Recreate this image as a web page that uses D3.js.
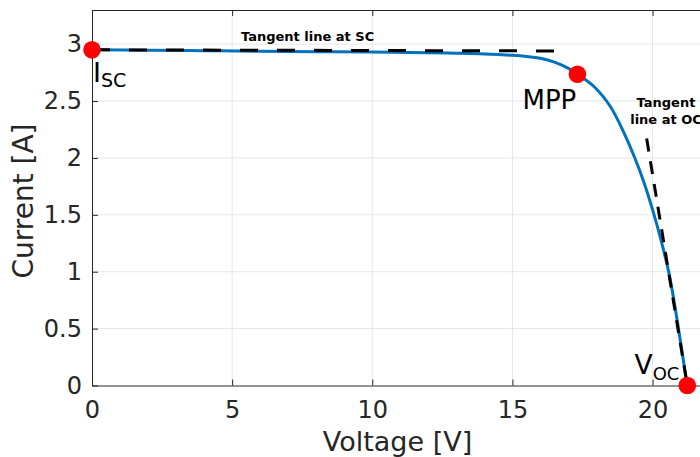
<!DOCTYPE html>
<html>
<head>
<meta charset="utf-8">
<script src="https://cdn.jsdelivr.net/npm/d3@7"></script>
<style>
  html, body { margin: 0; padding: 0; background: #fff; }
  svg { display: block; font-family: "DejaVu Sans", sans-serif; }
</style>
</head>
<body>
<div id="chart"></div>
<script>
// I-V curve of the panel
const voltage = [0, 2, 4, 6, 8, 10, 12, 13, 14, 15, 15.5, 16, 16.5, 17, 17.32, 17.9, 18.5, 19, 19.35, 19.7, 20, 20.3, 20.6, 20.9, 21.1, 21.24];
const current = [2.95, 2.946, 2.942, 2.938, 2.934, 2.93, 2.924, 2.92, 2.914, 2.902, 2.892, 2.876, 2.842, 2.787, 2.735, 2.63, 2.45, 2.21, 2.01, 1.78, 1.545, 1.28, 0.97, 0.54, 0.22, 0];

// tangent lines
const scTangentV = [0, 16.7];
const scTangentI = [2.95, 2.94];
const ocTangentV = [19.79, 21.24];
const ocTangentI = [2.17, 0];

// marked points: Isc, MPP, Voc
const pointNames = ["Isc", "MPP", "Voc"];
const pointV = [0, 17.32, 21.24];
const pointI = [2.95, 2.735, 0];

const xTicks = [0, 5, 10, 15, 20];
const yTicks = [0, 0.5, 1, 1.5, 2, 2.5, 3];

const W = 700, H = 457;
const mLeft = 92, mTop = 10, mRight = 703, mBottom = 385.5;
const axisColor = "#262626";

const svg = d3.select("#chart").append("svg")
    .attr("width", W)
    .attr("height", H);

const x = d3.scaleLinear().domain([0, 21.8]).range([mLeft, mRight]);
const y = d3.scaleLinear().domain([0, 3.3]).range([mBottom, mTop]);

// grid
svg.append("g").selectAll("line")
    .data(xTicks.filter(d => d > 0))
    .enter().append("line")
    .attr("x1", d => x(d)).attr("x2", d => x(d))
    .attr("y1", mTop).attr("y2", mBottom)
    .attr("stroke", "#e6e6e6").attr("stroke-width", 1);
svg.append("g").selectAll("line")
    .data(yTicks.filter(d => d > 0))
    .enter().append("line")
    .attr("x1", mLeft).attr("x2", mRight)
    .attr("y1", d => y(d)).attr("y2", d => y(d))
    .attr("stroke", "#e6e6e6").attr("stroke-width", 1);

// axes (ticks pointing inward, box around)
svg.append("g")
    .attr("transform", "translate(0," + mBottom + ")")
    .call(d3.axisBottom(x).tickValues(xTicks).tickSizeInner(-6).tickSizeOuter(0).tickPadding(10))
    .call(g => g.select(".domain").attr("stroke", axisColor))
    .call(g => g.selectAll(".tick line").attr("stroke", axisColor))
    .call(g => g.selectAll(".tick text").attr("fill", axisColor).attr("font-size", 24)
        .attr("font-family", "DejaVu Sans").attr("y", 14).attr("dy", "0.76em"));

svg.append("g")
    .attr("transform", "translate(" + mLeft + ",0)")
    .call(d3.axisLeft(y).tickValues(yTicks).tickFormat(d3.format("~g")).tickSizeInner(-6).tickSizeOuter(0).tickPadding(10))
    .call(g => g.select(".domain").attr("stroke", axisColor))
    .call(g => g.selectAll(".tick line").attr("stroke", axisColor))
    .call(g => g.selectAll(".tick text").attr("fill", axisColor).attr("font-size", 24)
        .attr("font-family", "DejaVu Sans").attr("x", -10));

svg.append("g")
    .attr("transform", "translate(0," + mTop + ")")
    .call(d3.axisTop(x).tickValues(xTicks).tickSizeInner(-6).tickSizeOuter(0).tickFormat(""))
    .call(g => g.select(".domain").attr("stroke", axisColor))
    .call(g => g.selectAll(".tick line").attr("stroke", axisColor));

svg.append("line")
    .attr("x1", mRight).attr("x2", mRight).attr("y1", mTop).attr("y2", mBottom)
    .attr("stroke", axisColor);

// axis labels
svg.append("text")
    .attr("x", (mLeft + mRight) / 2).attr("y", 451)
    .attr("text-anchor", "middle")
    .attr("font-size", 27).attr("fill", axisColor)
    .text("Voltage [V]");

svg.append("text")
    .attr("transform", "translate(33,201) rotate(-90)")
    .attr("text-anchor", "middle")
    .attr("font-size", 28).attr("fill", axisColor)
    .text("Current [A]");

// I-V curve
const line = d3.line()
    .x(i => x(voltage[i]))
    .y(i => y(current[i]))
    .curve(d3.curveCatmullRom.alpha(0.5));

svg.append("path")
    .attr("d", line(d3.range(voltage.length)))
    .attr("fill", "none")
    .attr("stroke", "#0072BD")
    .attr("stroke-width", 3);

// tangent lines
const tline = (vs, is) => d3.line().x(i => x(vs[i])).y(i => y(is[i]))(d3.range(vs.length));

svg.append("path")
    .attr("d", tline(scTangentV, scTangentI))
    .attr("fill", "none").attr("stroke", "#000")
    .attr("stroke-width", 3).attr("stroke-dasharray", "18,19");

svg.append("path")
    .attr("d", tline(ocTangentV, ocTangentI))
    .attr("fill", "none").attr("stroke", "#000")
    .attr("stroke-width", 3).attr("stroke-dasharray", "13,10");

// points
svg.append("g").selectAll("circle")
    .data(pointNames)
    .enter().append("circle")
    .attr("cx", (d, i) => x(pointV[i]))
    .attr("cy", (d, i) => y(pointI[i]))
    .attr("r", 8.8)
    .attr("fill", "#ff0000");

// annotations
svg.append("text")
    .attr("x", 241).attr("y", 41)
    .attr("font-size", 13).attr("font-weight", "bold")
    .text("Tangent line at SC");

svg.append("text")
    .attr("x", 666).attr("y", 107)
    .attr("text-anchor", "middle")
    .attr("font-size", 13).attr("font-weight", "bold")
    .selectAll("tspan")
    .data(["Tangent", "line at OC"])
    .enter().append("tspan")
    .attr("x", 666)
    .attr("dy", (d, i) => i === 0 ? 0 : 16.5)
    .text(d => d);

svg.append("text")
    .attr("x", 522.5).attr("y", 108.5)
    .attr("font-size", 26)
    .text("MPP");

const isc = svg.append("text").attr("x", 93).attr("y", 81.7).attr("font-size", 27);
isc.append("tspan").text("I");
isc.append("tspan").attr("font-size", 19).attr("dy", 5).text("SC");

const voc = svg.append("text").attr("x", 634.5).attr("y", 374.3).attr("font-size", 26.5);
voc.append("tspan").text("V");
voc.append("tspan").attr("font-size", 18).attr("dy", 5.7).text("OC");
</script>
</body>
</html>
